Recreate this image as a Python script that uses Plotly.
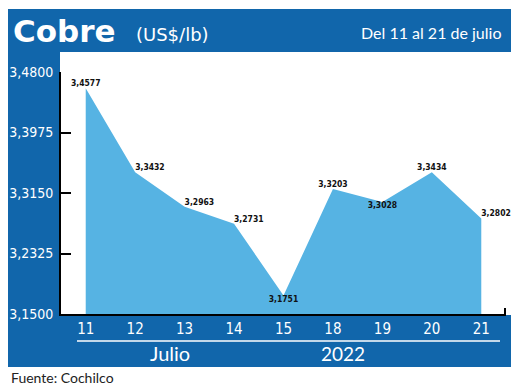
import plotly.graph_objects as go

days = ["11", "12", "13", "14", "15", "18", "19", "20", "21"]
prices = [3.4577, 3.3432, 3.2963, 3.2731, 3.1751, 3.3203, 3.3028, 3.3434, 3.2802]
price_labels = ["3,4577", "3,3432", "3,2963", "3,2731", "3,1751", "3,3203", "3,3028", "3,3434", "3,2802"]
label_pos = ["top center", "top right", "top right", "top right", "bottom center",
             "top center", "bottom center", "top center", "top right"]
y_ticks = [3.15, 3.2325, 3.315, 3.3975, 3.48]
y_tick_text = ["3,1500", "3,2325", "3,3150", "3,3975", "3,4800"]

# The page body has an 8px margin; the figure is sized to fit the window exactly
OFF = 8
W, H = 520 - OFF, 389 - OFF
# plot area in window pixels
L, R, T, B = 61, 506, 72, 314
BLUE = "#1166ab"
FILL = "#56b3e3"
NARROW = "DejaVu Sans Condensed, sans-serif"


def px(x):
    return (x - L) / (R - L)


def py(y):
    return (B - y) / (B - T)


fig = go.Figure()
fig.add_trace(go.Scatter(
    x=list(range(len(days))), y=prices, mode="lines+text",
    fill="tozeroy", fillcolor=FILL, line=dict(width=0, color=FILL),
    text=price_labels, textposition=label_pos,
    textfont=dict(family=NARROW, size=8.5, color="#111111", weight="bold"),
    hoverinfo="skip", showlegend=False, cliponaxis=False,
))

shapes = [
    dict(type="rect", xref="paper", yref="paper", x0=px(5), x1=px(511), y0=py(52), y1=py(9),
         fillcolor=BLUE, line_width=0, layer="below"),
    dict(type="rect", xref="paper", yref="paper", x0=px(5), x1=px(60), y0=py(367), y1=py(9),
         fillcolor=BLUE, line_width=0, layer="below"),
    dict(type="rect", xref="paper", yref="paper", x0=px(5), x1=px(511), y0=py(367), y1=py(315),
         fillcolor=BLUE, line_width=0, layer="below"),
    dict(type="line", xref="paper", yref="paper", x0=px(77), x1=px(500), y0=py(341), y1=py(341),
         line=dict(color="white", width=1.5)),
    dict(type="line", xref="paper", yref="paper", x0=px(505), x1=px(505), y0=0, y1=py(308),
         line=dict(color="black", width=2)),
]


def note(text, x, y, xanchor, family, size, color="white", weight="normal"):
    return dict(text=text, xref="paper", yref="paper", x=px(x), y=py(y),
                xanchor=xanchor, yanchor="middle", showarrow=False,
                font=dict(family=family, size=size, color=color, weight=weight))


annotations = [
    note("Cobre", 11, 31, "left", "DejaVu Sans", 31, weight="bold"),
    note("(US$/lb)", 134, 34, "left", "DejaVu Sans", 18),
    note("Del 11 al 21 de julio", 503, 33, "right", "Lato", 16),
    note("Julio", 170, 353, "center", "Lato", 20),
    note("2022", 343, 353, "center", "Lato", 19),
    note("Fuente: Cochilco", 9, 377, "left", "Lato", 14, color="#222222"),
]

fig.update_layout(
    width=W, height=H,
    margin=dict(l=L - OFF, r=W - (R - OFF), t=T - OFF, b=H - (B - OFF), pad=0),
    paper_bgcolor="white", plot_bgcolor="white",
    separators=",.",
    shapes=shapes, annotations=annotations,
    xaxis=dict(range=[-0.5, len(days) - 0.5], tickmode="array",
               tickvals=list(range(len(days))), ticktext=days, automargin=False,
               showgrid=False, zeroline=False, showline=True, linecolor="black", linewidth=2,
               layer="below traces", ticks="", ticklabelstandoff=0,
               tickfont=dict(family=NARROW, size=15, color="white")),
    yaxis=dict(range=[3.15, 3.48], tickmode="array", tickvals=y_ticks, ticktext=y_tick_text,
               automargin=False,
               showgrid=False, zeroline=False, showline=True, linecolor="black", linewidth=2,
               ticks="inside", ticklen=10, tickwidth=2, tickcolor="black",
               ticklabelstandoff=3,
               tickfont=dict(family=NARROW, size=14, color="white")),
)

fig.write_html("out.html")
